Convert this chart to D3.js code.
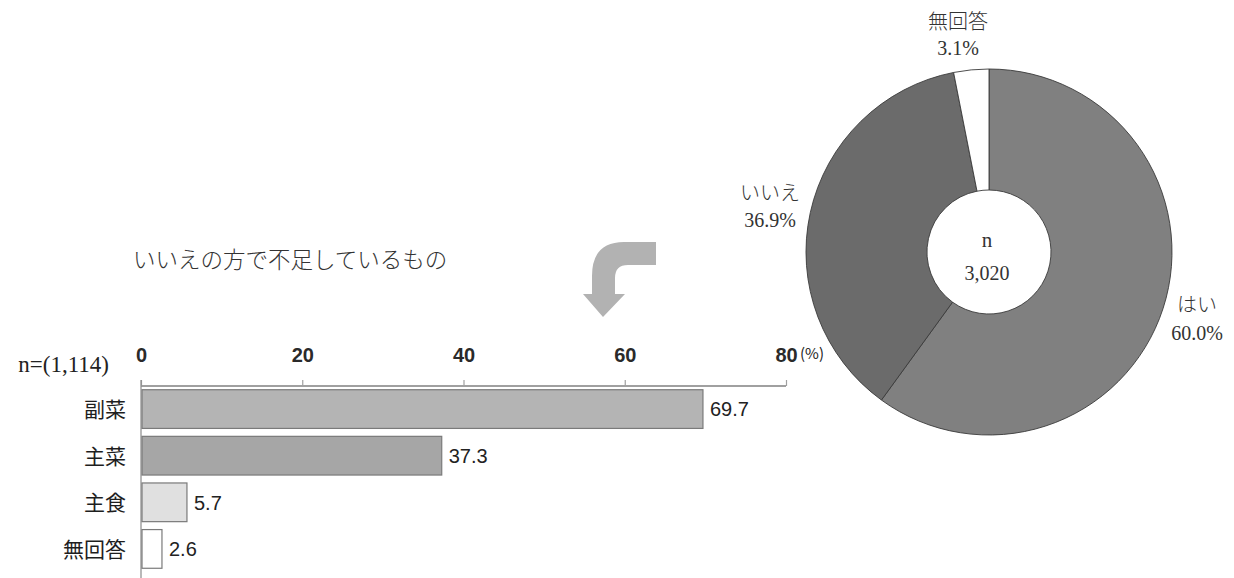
<!DOCTYPE html>
<html><head><meta charset="utf-8">
<script src="https://cdn.jsdelivr.net/npm/d3@7"></script>
<style>
html,body{margin:0;padding:0;background:#fff;}
svg{display:block;}
.serif{font-family:"Liberation Serif","Noto Sans CJK JP",serif;}
.jp{font-family:"Noto Sans CJK JP",sans-serif;}
.sans{font-family:"Liberation Sans","Arial",sans-serif;}
</style></head>
<body>
<svg id="chart" width="1234" height="578"></svg>
<script>
// ---- Bar chart data ----
const barCategories = ["副菜", "主菜", "主食", "無回答"];
const barValues = [69.7, 37.3, 5.7, 2.6];
const barColors = ["#b4b4b4", "#a6a6a6", "#e0e0e0", "#ffffff"];
const barTicks = [0, 20, 40, 60, 80];
const barTitle = "いいえの方で不足しているもの";
const barN = "n=(1,114)";
const barUnit = "(%)";

// ---- Donut data ----
const pieLabels = ["はい", "いいえ", "無回答"];
const pieValues = [60.0, 36.9, 3.1];
const pieColors = ["#808080", "#6b6b6b", "#ffffff"];
const pieCenterLines = ["n", "3,020"];

const svg = d3.select("#chart");

// ===== Bar chart =====
const x = d3.scaleLinear().domain([0, 80]).range([141, 786]);
const y = d3.scaleBand().domain(barCategories).range([386, 572]).paddingInner(0.17).paddingOuter(0.08);
const axisY = 386;

// title
svg.append("text").attr("class","jp").attr("x",133).attr("y",268)
  .attr("font-size",22.5).attr("font-weight",300).attr("fill","#333").text(barTitle);

// arrow decoration
svg.append("path")
  .attr("d","M656,242 L624,242 Q592,242 592,276 L592,294 L583,294 L603,317 L625,294 L615,294 L615,278 Q615,265 628,265 L656,265 Z")
  .attr("fill","#b2b2b2");

// axis line + ticks
const axis = d3.axisTop(x).tickValues(barTicks).tickSize(6).tickPadding(18).tickFormat(d3.format("d"));
const gAxis = svg.append("g").attr("transform",`translate(0,${axisY})`).call(axis);
gAxis.select(".domain").attr("stroke","#a0a0a0").attr("stroke-width",2).attr("d",`M${x(0)},0H${x(80)}`);
gAxis.selectAll(".tick line").attr("stroke","#a0a0a0").attr("stroke-width",1.2);
gAxis.selectAll(".tick text").attr("font-size",20).attr("font-weight","bold").attr("fill","#2a2a2a")
  .attr("font-family","Liberation Sans, Arial, sans-serif");

// vertical axis
svg.append("line").attr("x1",x(0)).attr("x2",x(0)).attr("y1",axisY-6).attr("y2",578)
  .attr("stroke","#8a8a8a").attr("stroke-width",1.2);

// bars
svg.selectAll("rect.bar").data(barValues).join("rect").attr("class","bar")
  .attr("x",x(0)+1).attr("y",(d,i)=>y(barCategories[i]))
  .attr("width",d=>x(d)-x(0)-1).attr("height",y.bandwidth())
  .attr("fill",(d,i)=>barColors[i]).attr("stroke","#7a7a7a").attr("stroke-width",1.2);

// value labels
svg.selectAll("text.val").data(barValues).join("text").attr("class","val sans")
  .attr("x",d=>x(d)+7).attr("y",(d,i)=>y(barCategories[i])+y.bandwidth()/2)
  .attr("dy","0.36em").attr("font-size",20).attr("fill","#222").text(d=>d.toFixed(1));

// category labels
svg.selectAll("text.cat").data(barCategories).join("text").attr("class","cat jp")
  .attr("x",126).attr("y",d=>y(d)+y.bandwidth()/2).attr("dy","0.38em")
  .attr("text-anchor","end").attr("font-size",21).attr("font-weight",400).attr("fill","#1e1e1e").text(d=>d);

// n label & unit
svg.append("text").attr("class","serif").attr("x",109).attr("y",372).attr("text-anchor","end")
  .attr("font-size",23).attr("fill","#222").text(barN);
svg.append("text").attr("class","jp").attr("x",800).attr("y",359).attr("font-size",15).attr("fill","#222").text(barUnit);

// ===== Donut =====
const cx = 989, cy = 252, rOuter = 183, rInner = 62;
const pie = d3.pie().sort(null).value(d=>d)(pieValues);
const arc = d3.arc().innerRadius(rInner).outerRadius(rOuter);
const gPie = svg.append("g").attr("transform",`translate(${cx},${cy})`);
gPie.selectAll("path").data(pie).join("path").attr("d",arc)
  .attr("fill",(d,i)=>pieColors[i]).attr("stroke","#3a3a3a").attr("stroke-width",0.9);

// center text
gPie.append("text").attr("class","serif").attr("x",-2).attr("y",-12).attr("dy","0.35em").attr("text-anchor","middle")
  .attr("font-size",21).attr("fill","#333").text(pieCenterLines[0]);
gPie.append("text").attr("class","serif").attr("x",-2).attr("y",21).attr("dy","0.35em").attr("text-anchor","middle")
  .attr("font-size",20).attr("fill","#333").text(pieCenterLines[1]);

// outside labels
const pieLabelPos = [[1197,305,333],[770,193,220],[958,22,48]];
pieLabels.forEach((lab,i)=>{
  const [lx,ly1,ly2] = pieLabelPos[i];
  svg.append("text").attr("class","jp").attr("x",lx).attr("y",ly1).attr("dy","0.36em").attr("text-anchor","middle")
    .attr("font-size",20).attr("font-weight",300).attr("fill","#333").text(lab);
  svg.append("text").attr("class","serif").attr("x",lx).attr("y",ly2).attr("dy","0.36em").attr("text-anchor","middle")
    .attr("font-size",20).attr("fill","#333").text(pieValues[i].toFixed(1)+"%");
});
</script>
</body></html>
